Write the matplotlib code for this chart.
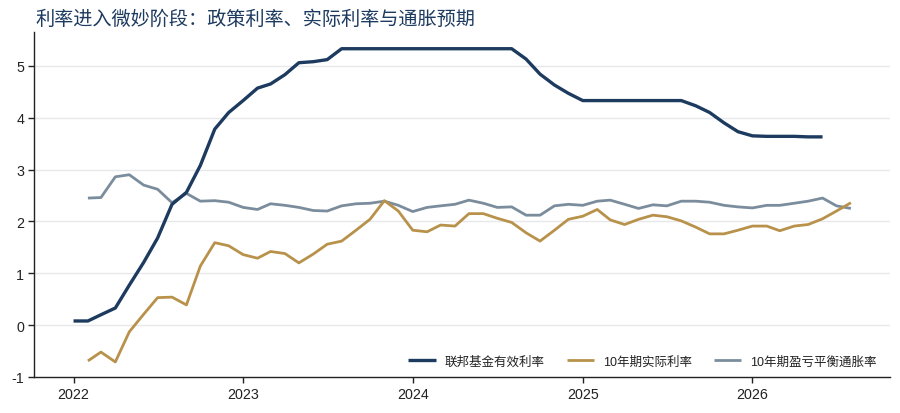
import matplotlib
matplotlib.use("Agg")
import matplotlib.pyplot as plt
import pandas as pd

plt.rcParams['font.family'] = ['Liberation Sans', 'Noto Sans CJK SC', 'DejaVu Sans']

title = "利率进入微妙阶段：政策利率、实际利率与通胀预期"
labels = ["联邦基金有效利率", "10年期实际利率", "10年期盈亏平衡通胀率"]
year_ticks = [2022, 2023, 2024, 2025, 2026]

# Effective Fed funds rate, monthly from 2022-01 to 2026-06
fed_start = "2022-01-01"
fed = [0.08, 0.08, 0.20, 0.33, 0.77, 1.21, 1.68, 2.33, 2.56, 3.08, 3.78, 4.10,
       4.33, 4.57, 4.65, 4.83, 5.06, 5.08, 5.12, 5.33, 5.33, 5.33, 5.33, 5.33,
       5.33, 5.33, 5.33, 5.33, 5.33, 5.33, 5.33, 5.33, 5.13, 4.84, 4.63, 4.47,
       4.33, 4.33, 4.33, 4.33, 4.33, 4.33, 4.33, 4.33, 4.23, 4.10, 3.90, 3.73,
       3.65, 3.64, 3.64, 3.64, 3.63, 3.63]

# 10Y real rate, monthly from 2022-02 to 2026-08
real_start = "2022-02-01"
real = [-0.69, -0.52, -0.71, -0.13, 0.21, 0.53, 0.54, 0.39, 1.14, 1.59, 1.53,
        1.36, 1.29, 1.42, 1.38, 1.20, 1.37, 1.56, 1.62, 1.83, 2.04, 2.40, 2.20,
        1.83, 1.80, 1.93, 1.91, 2.15, 2.15, 2.06, 1.98, 1.78, 1.62, 1.83, 2.04,
        2.10, 2.23, 2.03, 1.94, 2.04, 2.12, 2.09, 2.01, 1.89, 1.76, 1.76, 1.83,
        1.91, 1.91, 1.82, 1.91, 1.94, 2.05, 2.20, 2.36]

# 10Y breakeven inflation, monthly from 2022-02 to 2026-08
be_start = "2022-02-01"
breakeven = [2.45, 2.46, 2.86, 2.90, 2.70, 2.62, 2.36, 2.54, 2.39, 2.40, 2.37,
             2.27, 2.23, 2.34, 2.31, 2.27, 2.21, 2.20, 2.30, 2.34, 2.35, 2.39, 2.31,
             2.19, 2.27, 2.30, 2.33, 2.41, 2.35, 2.27, 2.28, 2.12, 2.12, 2.30, 2.33,
             2.31, 2.39, 2.41, 2.33, 2.25, 2.32, 2.30, 2.39, 2.39, 2.37, 2.31, 2.28,
             2.26, 2.31, 2.31, 2.35, 2.39, 2.45, 2.30, 2.25]

c_navy = "#1d3a5f"
c_gold = "#b8924b"
c_gray = "#7b8d9c"

x_fed = pd.date_range(fed_start, periods=len(fed), freq="MS")
x_real = pd.date_range(real_start, periods=len(real), freq="MS")
x_be = pd.date_range(be_start, periods=len(breakeven), freq="MS")

fig = plt.figure(figsize=(9, 4.14), dpi=100)
ax = fig.add_axes([0.0378, 0.087, 0.951, 0.833])

ax.plot(x_fed, fed, color=c_navy, lw=2.4, label=labels[0], solid_capstyle='butt', zorder=3)
ax.plot(x_real, real, color=c_gold, lw=2.0, label=labels[1], solid_capstyle='butt', zorder=3)
ax.plot(x_be, breakeven, color=c_gray, lw=2.0, label=labels[2], solid_capstyle='butt', zorder=2)

ax.set_ylim(-1, 5.65)
ax.set_yticks([-1, 0, 1, 2, 3, 4, 5])
ax.set_yticklabels(["-1", "0", "1", "2", "3", "4", "5"])
ax.set_xlim(pd.Timestamp("2021-10-08"), pd.Timestamp("2026-10-24"))
ax.set_xticks([pd.Timestamp(f"{y}-01-01") for y in year_ticks])
ax.set_xticklabels([str(y) for y in year_ticks])

for v in [0, 1, 2, 3, 4, 5]:
    ax.axhline(v, color="#e6e8eb", lw=1.0, zorder=0)

for s in ["top", "right"]:
    ax.spines[s].set_visible(False)
for s in ["left", "bottom"]:
    ax.spines[s].set_color("#222222")
    ax.spines[s].set_linewidth(1.0)

ax.tick_params(axis="both", labelsize=10.3, colors="#222222", length=4, width=1, pad=3)

leg = ax.legend(loc="lower right", ncol=3, frameon=False, fontsize=9,
                handlelength=2.2, columnspacing=1.75, handletextpad=0.72,
                bbox_to_anchor=(0.998, -0.005))
for t in leg.get_texts():
    t.set_color("#222222")

fig.text(0.039, 0.952, title, fontsize=13.8, color="#1d3a5f", ha="left", va="center")

fig.savefig("out.png", dpi=100)
